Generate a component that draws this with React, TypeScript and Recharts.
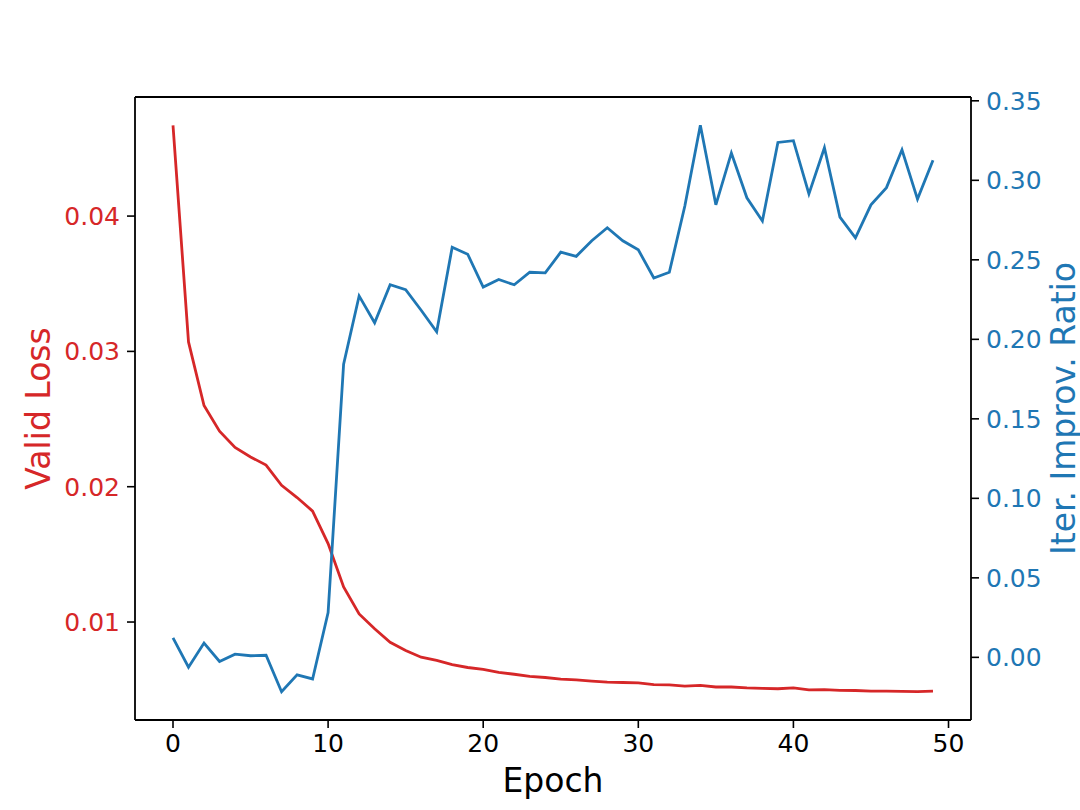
import { Label, Line, LineChart, ReferenceLine, XAxis, YAxis } from "recharts";

const RED = "#d62728";
const BLUE = "#1f77b4";

const epochs = [
  0, 1, 2, 3, 4, 5, 6, 7, 8, 9, 10, 11, 12, 13, 14, 15, 16, 17, 18, 19, 20, 21, 22, 23, 24,
  25, 26, 27, 28, 29, 30, 31, 32, 33, 34, 35, 36, 37, 38, 39, 40, 41, 42, 43, 44, 45, 46, 47, 48, 49,
];

const validLoss = [
  0.0467, 0.0307, 0.026, 0.0241, 0.0229, 0.0222, 0.0216, 0.0201, 0.0192, 0.0182,
  0.0158, 0.0126, 0.0106, 0.0095, 0.0085, 0.0079, 0.0074, 0.00716, 0.00686, 0.00664,
  0.0065, 0.00628, 0.00614, 0.00598, 0.0059, 0.00578, 0.00572, 0.00563, 0.00556, 0.00553,
  0.0055, 0.00538, 0.00535, 0.00526, 0.00532, 0.0052, 0.0052, 0.00513, 0.0051, 0.00507,
  0.00513, 0.00498, 0.00501, 0.00495, 0.00494, 0.0049, 0.0049, 0.00487, 0.00485, 0.0049,
];

const improvRatio = [
  0.0123, -0.0062, 0.009, -0.0026, 0.002, 0.001, 0.0013, -0.0216, -0.011, -0.0136,
  0.0282, 0.1844, 0.2273, 0.2104, 0.2343, 0.2312, 0.2183, 0.2047, 0.2579, 0.2535,
  0.2329, 0.2376, 0.2343, 0.2422, 0.2418, 0.2548, 0.2522, 0.262, 0.2702, 0.262,
  0.2563, 0.2386, 0.2422, 0.2838, 0.3346, 0.2846, 0.3172, 0.289, 0.2744, 0.3238,
  0.3249, 0.2915, 0.3205, 0.2769, 0.2638, 0.2846, 0.2954, 0.3192, 0.2882, 0.3126,
];

const epochTicks = [0, 10, 20, 30, 40, 50];
const lossTicks = [0.01, 0.02, 0.03, 0.04];
const ratioTicks = [0, 0.05, 0.1, 0.15, 0.2, 0.25, 0.3, 0.35];

const LOSS_DOMAIN = [0.00276, 0.0488];
const RATIO_DOMAIN = [-0.0394, 0.3524];
const EPOCH_DOMAIN = [-2.45, 51.45];

const data = epochs.map((e, i) => ({
  epoch: e,
  loss: validLoss[i],
  ratio: improvRatio[i],
}));

const fmt = (v: number) => v.toFixed(2);

function LeftTitle(props: any) {
  const { x, y, height } = props.viewBox;
  const cx = x + 50;
  const cy = y + height / 2;
  return (
    <text x={cx} y={cy} transform={`rotate(-90, ${cx}, ${cy})`} textAnchor="middle" fill={RED} fontSize={33}>
      Valid Loss
    </text>
  );
}

function RightTitle(props: any) {
  const { x, y, height } = props.viewBox;
  const cx = x + 104;
  const cy = y + height / 2;
  return (
    <text x={cx} y={cy} transform={`rotate(-90, ${cx}, ${cy})`} textAnchor="middle" fill={BLUE} fontSize={33}>
      Iter. Improv. Ratio
    </text>
  );
}

function BottomTitle(props: any) {
  const { x, y, width } = props.viewBox;
  return (
    <text x={x + width / 2} y={y + 72} textAnchor="middle" fill="#000" fontSize={33}>
      Epoch
    </text>
  );
}

export default function App() {
  return (
    <div style={{ position: "absolute", left: 0, top: 0, background: "#fff" }}>
      <LineChart
        width={1080}
        height={810}
        data={data}
        margin={{ top: 97, right: 0, bottom: 0, left: 0 }}
        style={{ fontFamily: "DejaVu Sans" }}
      >
        <XAxis
          dataKey="epoch"
          type="number"
          domain={EPOCH_DOMAIN}
          ticks={epochTicks}
          interval={0}
          height={90}
          tickSize={8}
          tickMargin={6}
          tick={{ fill: "#000", fontSize: 25 }}
          tickLine={{ stroke: "#000", strokeWidth: 1.6 }}
          axisLine={{ stroke: "#000", strokeWidth: 1.8 }}
        >
          <Label content={BottomTitle} />
        </XAxis>
        <YAxis
          yAxisId="left"
          type="number"
          domain={LOSS_DOMAIN}
          ticks={lossTicks}
          interval={0}
          width={135}
          tickSize={8}
          tickMargin={7}
          tickFormatter={fmt}
          tick={{ fill: RED, fontSize: 25 }}
          tickLine={{ stroke: "#000", strokeWidth: 1.6 }}
          axisLine={{ stroke: "#000", strokeWidth: 1.8 }}
        >
          <Label content={LeftTitle} />
        </YAxis>
        <YAxis
          yAxisId="right"
          orientation="right"
          type="number"
          domain={RATIO_DOMAIN}
          ticks={ratioTicks}
          interval={0}
          width={109}
          tickSize={8}
          tickMargin={7}
          tickFormatter={fmt}
          tick={{ fill: BLUE, fontSize: 25 }}
          tickLine={{ stroke: "#000", strokeWidth: 1.6 }}
          axisLine={{ stroke: "#000", strokeWidth: 1.8 }}
        >
          <Label content={RightTitle} />
        </YAxis>
        <ReferenceLine yAxisId="left" y={LOSS_DOMAIN[1]} stroke="#000" strokeWidth={1.8} />
        <Line
          yAxisId="left"
          dataKey="loss"
          stroke={RED}
          strokeWidth={2.8}
          dot={false}
          type="linear"
          isAnimationActive={false}
        />
        <Line
          yAxisId="right"
          dataKey="ratio"
          stroke={BLUE}
          strokeWidth={2.8}
          dot={false}
          type="linear"
          isAnimationActive={false}
        />
      </LineChart>
    </div>
  );
}
